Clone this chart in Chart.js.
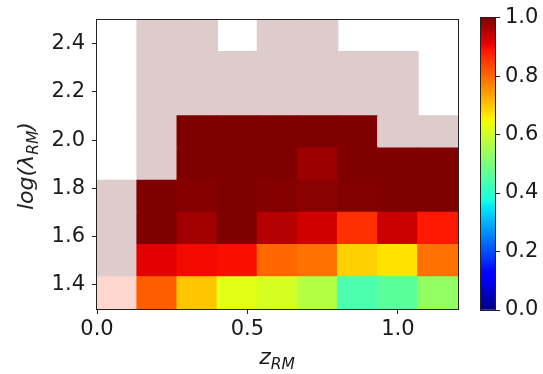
<!DOCTYPE html>
<html>
<head>
<meta charset="utf-8">
<script src="https://cdn.jsdelivr.net/npm/chart.js@4.4.1/dist/chart.umd.min.js"></script>
<style>
html,body{margin:0;padding:0;background:#fff;}
#wrap{position:relative;width:543px;height:374px;overflow:hidden;font-family:"DejaVu Sans",sans-serif;background:#fff;}
#main{position:absolute;left:0;top:0;}
#cbar{position:absolute;left:470px;top:0;}
.t{position:absolute;font-style:italic;font-size:22px;color:#1a1a1a;white-space:nowrap;line-height:22px;}
.t span{font-size:15.5px;position:relative;top:5px;line-height:0;}
#xt{left:277px;top:346px;transform:translateX(-50%);}
#yt{left:26px;top:166px;transform:translate(-50%,-50%) rotate(-90deg);}
</style>
</head>
<body>
<div id="wrap">
  <canvas id="main" width="543" height="374"></canvas>
  <canvas id="cbar" width="73" height="374"></canvas>
  <div class="t" id="xt">z<span>RM</span></div>
  <div class="t" id="yt">log(λ<span>RM</span>)</div>
</div>
<script>
// ---- data ----
const zEdges = [0, 0.13333, 0.26667, 0.4, 0.53333, 0.66667, 0.8, 0.93333, 1.06667, 1.2];
const lamEdges = [1.3, 1.43333, 1.56667, 1.7, 1.83333, 1.96667, 2.1, 2.23333, 2.36667, 2.5];
const xTicks = [0.0, 0.5, 1.0];
const yTicks = [1.4, 1.6, 1.8, 2.0, 2.2, 2.4];
const cbTicks = [0.0, 0.2, 0.4, 0.6, 0.8, 1.0];
// special cell codes: null = empty, LOW = low-count cell, LOW0 = low-count (lowest bin)
const LOW = -1, LOW0 = -2;
const frac_1300 = [LOW0, 0.81, 0.70, 0.625, 0.61, 0.567, 0.44, 0.46, 0.53];
const frac_1433 = [LOW, 0.915, 0.90, 0.895, 0.80, 0.79, 0.69, 0.67, 0.79];
const frac_1567 = [LOW, 1.0, 0.97, 1.0, 0.955, 0.93, 0.86, 0.935, 0.885];
const frac_1700 = [LOW, 1.0, 0.995, 1.0, 0.995, 0.99, 0.997, 1.0, 1.0];
const frac_1833 = [null, LOW, 1.0, 1.0, 1.0, 0.975, 1.0, 1.0, 1.0];
const frac_1967 = [null, LOW, 1.0, 1.0, 1.0, 1.0, 1.0, LOW, LOW];
const frac_2100 = [null, LOW, LOW, LOW, LOW, LOW, LOW, LOW, null];
const frac_2233 = [null, LOW, LOW, LOW, LOW, LOW, LOW, LOW, null];
const frac_2367 = [null, LOW, LOW, null, LOW, LOW, null, null, null];
const rows = [frac_1300, frac_1433, frac_1567, frac_1700, frac_1833, frac_1967, frac_2100, frac_2233, frac_2367];

// ---- styles ----
function interp(v, pts){
  for(let i=1;i<pts.length;i++){
    if(v<=pts[i][0]){
      const [x0,y0]=pts[i-1],[x1,y1]=pts[i];
      return y0+(y1-y0)*(v-x0)/(x1-x0);
    }
  }
  return pts[pts.length-1][1];
}
function jet(v){
  v=Math.max(0,Math.min(1,v));
  const r=interp(v,[[0,0],[0.35,0],[0.66,1],[0.89,1],[1,0.5]]);
  const g=interp(v,[[0,0],[0.125,0],[0.375,1],[0.64,1],[0.91,0],[1,0]]);
  const b=interp(v,[[0,0.5],[0.11,1],[0.34,1],[0.65,0],[1,0]]);
  return `rgb(${Math.round(r*255)},${Math.round(g*255)},${Math.round(b*255)})`;
}
function cellColor(v){
  if(v===LOW) return '#decbcb';
  if(v===LOW0) return '#fdd6ce';
  return jet(v);
}
const FONT = {family:'"DejaVu Sans"', size:21};
const TXT = '#1a1a1a';
const framePlugin = {
  id:'frame',
  afterDatasetsDraw(chart){
    const {ctx, chartArea:a} = chart;
    ctx.save();
    ctx.strokeStyle='#222';
    ctx.lineWidth=1;
    ctx.strokeRect(Math.round(a.left)-0.5, Math.round(a.top)-0.5, Math.round(a.right-a.left)+1, Math.round(a.bottom-a.top)+1);
    ctx.restore();
  }
};

const datasets = rows.map((row,j)=>({
  data: row.map((v,i)=> v===null ? null : {x:(zEdges[i]+zEdges[i+1])/2, y:[lamEdges[j], lamEdges[j+1]], v}).filter(d=>d),
  backgroundColor: ctx => ctx.raw ? cellColor(ctx.raw.v) : 'transparent',
  borderWidth:0,
  inflateAmount:0.7,
  barPercentage:1,
  categoryPercentage:1,
  grouped:false
}));

new Chart(document.getElementById('main'), {
  type:'bar',
  data:{datasets},
  plugins:[framePlugin],
  options:{
    responsive:false, animation:false, events:[],
    layout:{padding:{left:0, top:16, right:85, bottom:0}},
    plugins:{legend:{display:false}, tooltip:{enabled:false}},
    scales:{
      x:{
        type:'linear', min:0, max:1.2, offset:false,
        afterBuildTicks:s=>{s.ticks = xTicks.map(v=>({value:v}));},
        afterFit:s=>{s.height=65;},
        ticks:{font:FONT, color:TXT, padding:3, maxRotation:0, autoSkip:false, callback:v=>Number(v).toFixed(1)},
        grid:{display:true, drawOnChartArea:false, drawTicks:true, tickLength:5, color:'#222', offset:false},
        border:{display:false}
      },
      y:{
        type:'linear', min:1.3, max:2.5, beginAtZero:false,
        afterBuildTicks:s=>{s.ticks = yTicks.map(v=>({value:v}));},
        afterFit:s=>{s.width=97;},
        ticks:{font:FONT, color:TXT, padding:7, autoSkip:false, callback:v=>Number(v).toFixed(1)},
        grid:{display:true, drawOnChartArea:false, drawTicks:true, tickLength:5, color:'#222'},
        border:{display:false}
      }
    }
  }
});

new Chart(document.getElementById('cbar'), {
  type:'bar',
  data:{labels:[''], datasets:[{
    data:[[cbTicks[0], cbTicks[cbTicks.length-1]]],
    backgroundColor: ctx=>{
      const a = ctx.chart.chartArea;
      if(!a) return '#800000';
      const g = ctx.chart.ctx.createLinearGradient(0, a.bottom, 0, a.top);
      for(let k=0;k<=100;k++){ g.addColorStop(k/100, jet(k/100)); }
      return g;
    },
    borderWidth:0, barPercentage:1, categoryPercentage:1
  }]},
  plugins:[framePlugin],
  options:{
    responsive:false, animation:false, events:[],
    layout:{padding:{left:11, top:16, right:0, bottom:64}},
    plugins:{legend:{display:false}, tooltip:{enabled:false}},
    scales:{
      x:{display:false},
      y:{
        position:'right', min:0, max:1, beginAtZero:false,
        afterBuildTicks:s=>{s.ticks = cbTicks.map(v=>({value:v}));},
        afterFit:s=>{s.width=48;},
        ticks:{font:FONT, color:TXT, padding:5, autoSkip:false, callback:v=>Number(v).toFixed(1)},
        grid:{display:true, drawOnChartArea:false, drawTicks:true, tickLength:5, color:'#222'},
        border:{display:false}
      }
    }
  }
});
</script>
</body>
</html>
